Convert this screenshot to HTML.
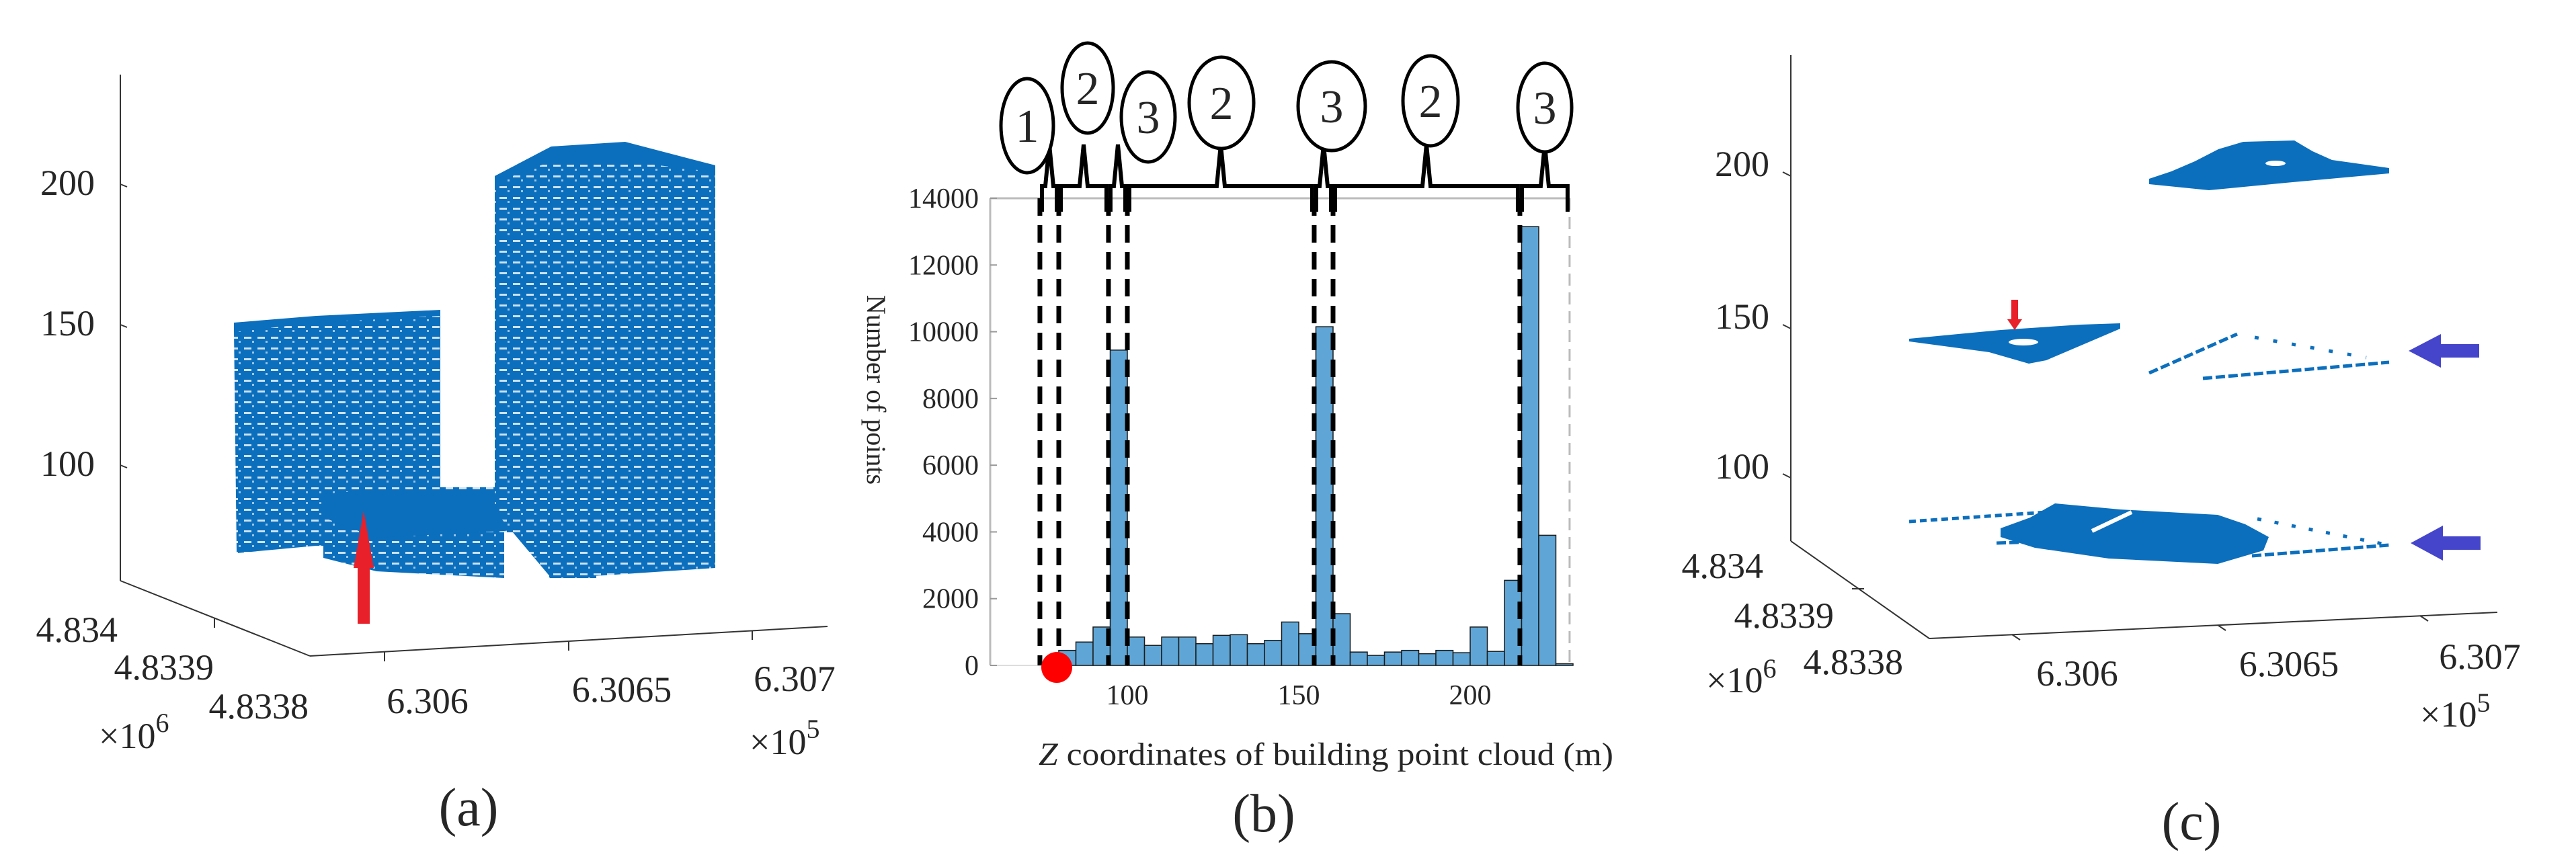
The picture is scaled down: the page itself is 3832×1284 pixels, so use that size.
<!DOCTYPE html>
<html><head><meta charset="utf-8"><style>
html,body{margin:0;padding:0;background:#fff;}
svg{display:block;}
svg text{font-family:"Liberation Serif","Times New Roman",serif !important;fill:#262626;}
</style></head><body>
<svg id="fig" width="3832" height="1284" viewBox="0 0 3832 1284" xmlns="http://www.w3.org/2000/svg" font-family="Liberation Serif, serif">
<defs>
<pattern id="win" width="20" height="16" patternUnits="userSpaceOnUse">
<rect width="20" height="16" fill="#0b6fbd"/>
<rect x="3" y="5" width="11" height="3" fill="#ffffff" opacity="0.8"/>
<rect x="15" y="11" width="3" height="3" fill="#ffffff" opacity="0.6"/>
</pattern>
</defs>

<!-- Panel A -->
<g>
<line x1="179" y1="111" x2="179" y2="864" stroke="#333" stroke-width="2"/>
<line x1="179" y1="864" x2="461" y2="976" stroke="#333" stroke-width="2"/>
<line x1="461" y1="976" x2="1231" y2="932" stroke="#333" stroke-width="2"/>
<g stroke="#333" stroke-width="2">
<line x1="179" y1="274" x2="189" y2="278"/><line x1="179" y1="483" x2="189" y2="487"/><line x1="179" y1="692" x2="189" y2="696"/>
<line x1="572" y1="970" x2="572" y2="984"/><line x1="846" y1="954" x2="846" y2="968"/><line x1="1119" y1="938" x2="1119" y2="952"/>
<line x1="319" y1="920" x2="319" y2="934"/>
</g>
<g font-size="54" text-anchor="end">
<text x="141" y="290">200</text>
<text x="141" y="499">150</text>
<text x="141" y="708">100</text>
<text x="175" y="955">4.834</text>
<text x="318" y="1011">4.8339</text>
<text x="459" y="1069">4.8338</text>
</g>
<text x="147" y="1113" font-size="54">×10<tspan dy="-24" font-size="40">6</tspan></text>
<g font-size="54" text-anchor="middle">
<text x="636" y="1061">6.306</text>
<text x="925" y="1044">6.3065</text>
<text x="1182" y="1028">6.307</text>
</g>
<text x="1115" y="1122" font-size="54">×10<tspan dy="-24" font-size="40">5</tspan></text>
<text x="697" y="1228" font-size="80" text-anchor="middle">(a)</text>
<polygon points="348,491 470,472 655,463 655,800 560,812 470,812 352,823" fill="url(#win)"/>
<polygon points="348,480 470,470 655,461 655,470 470,480 348,494" fill="#0b6fbd"/>
<polygon points="481,735 560,725 887,725 887,860 817,860 817,792 750,792 750,860 560,850 481,830" fill="url(#win)"/>
<polygon points="481,735 560,728 887,728 887,775 750,790 560,800 481,770" fill="#0b6fbd"/>
<polygon points="736,262 820,218 930,213 1064,246 1064,845 900,856 820,860 736,760" fill="url(#win)"/>
<polygon points="736,262 820,218 930,211 1064,246 1064,256 930,240 820,240 736,272" fill="#0b6fbd"/>
<polygon points="532,928 550,928 550,845 556,845 541,760 526,845 532,845" fill="#e8202a"/>
</g>

<!-- Panel B histogram -->
<g id="hist">
<text transform="translate(1290,580) rotate(90)" font-size="40" text-anchor="middle" fill="#000">Number of points</text>
<text x="1545" y="1138" font-size="48" textLength="855" lengthAdjust="spacingAndGlyphs" fill="#000"><tspan font-style="italic">Z</tspan> coordinates of building point cloud (m)</text>
<text x="1880" y="1237" font-size="80" text-anchor="middle">(b)</text>
</g>

<!-- Panel C -->
<g>
<line x1="2664" y1="82" x2="2664" y2="805" stroke="#333" stroke-width="2"/>
<line x1="2664" y1="805" x2="2870" y2="950" stroke="#333" stroke-width="2"/>
<line x1="2870" y1="950" x2="3715" y2="911" stroke="#333" stroke-width="2"/>
<g stroke="#333" stroke-width="2">
<line x1="2664" y1="262" x2="2652" y2="256"/><line x1="2664" y1="489" x2="2652" y2="483"/><line x1="2664" y1="711" x2="2652" y2="705"/>
<line x1="2755" y1="876" x2="2773" y2="876"/>
<line x1="2993" y1="944" x2="3005" y2="952"/><line x1="3299" y1="930" x2="3311" y2="938"/><line x1="3600" y1="916" x2="3612" y2="924"/>
</g>
<g font-size="54" text-anchor="end">
<text x="2632" y="262">200</text>
<text x="2632" y="489">150</text>
<text x="2632" y="712">100</text>
<text x="2623" y="860">4.834</text>
<text x="2728" y="934">4.8339</text>
<text x="2831" y="1003">4.8338</text>
</g>
<text x="2538" y="1030" font-size="54">×10<tspan dy="-22" font-size="40">6</tspan></text>
<g font-size="54" text-anchor="middle">
<text x="3090" y="1020">6.306</text>
<text x="3405" y="1006">6.3065</text>
<text x="3689" y="995">6.307</text>
</g>
<text x="3600" y="1081" font-size="54">×10<tspan dy="-22" font-size="40">5</tspan></text>
<text x="3260" y="1249" font-size="80" text-anchor="middle">(c)</text>
<polygon points="3197,266 3230,255 3265,240 3300,222 3337,211 3413,209 3440,225 3469,238 3554,250 3554,258 3400,272 3286,283 3197,274" fill="#0b6fbd"/>
<ellipse cx="3385" cy="243" rx="15" ry="4" fill="#fff"/>
<polygon points="2840,504 2976,491 3095,483 3154,481 3154,489 3044,536 3018,541 2959,524 2840,508" fill="#0b6fbd"/>
<ellipse cx="3010" cy="509" rx="22" ry="5" fill="#fff"/>
<polygon points="2992,446 3002,446 3002,475 3008,475 2997,491 2986,475 2992,475" fill="#e8202a"/>
<g stroke="#0b6fbd" stroke-width="5" stroke-dasharray="14 5" fill="none">
<line x1="3197" y1="555" x2="3328" y2="497"/>
<line x1="3277" y1="563" x2="3554" y2="539"/>
<line x1="3354" y1="502" x2="3520" y2="532" stroke-dasharray="6 22"/>
<line x1="2840" y1="776" x2="3044" y2="762" stroke-dasharray="10 6"/>
<line x1="3350" y1="827" x2="3554" y2="811"/>
<line x1="3358" y1="772" x2="3554" y2="811" stroke-dasharray="6 20"/>
<line x1="2970" y1="808" x2="3030" y2="806"/>
</g>
<polygon points="2976,786 3020,770 3057,749 3154,758 3299,766 3340,780 3375,799 3367,819 3299,839 3137,831 3027,815 2976,799" fill="#0b6fbd"/>
<line x1="3112" y1="790" x2="3171" y2="762" stroke="#fff" stroke-width="6"/>
<polygon points="3688,512 3631,512 3631,497 3583,522 3631,547 3631,532 3688,532" fill="#4545cc"/>
<polygon points="3690,798 3634,798 3634,782 3586,808 3634,834 3634,818 3690,818" fill="#4545cc"/>
</g>
</svg>
<script>
const binStarts = [80,85,90,95,100,105,110,115,120,125,130,135,140,145,150,155,160,165,170,175,180,185,190,195,200,205,210,215,220,225];
const counts = [450,700,1150,9450,850,600,850,850,650,900,920,650,750,1300,950,10150,1550,400,300,400,450,350,450,380,1150,420,2550,13150,3900,50];
const binWidth = 5;
const yTicks = [0,2000,4000,6000,8000,10000,12000,14000];
const xTicks = [100,150,200];
const boundaries = [74.5,80,94.5,100,154.5,160,214.5,229];
const segmentLabels = ["1","2","3","2","3","2","3"];
const xMin = 60, xMax = 229, yMax = 14000;
const L = 1473, R = 1473 + (xMax - xMin) * 5.1, T = 295, B = 990;
const sx = v => L + (v - xMin) / (xMax - xMin) * (R - L);
const sy = c => B - c / yMax * (B - T);
const NS = "http://www.w3.org/2000/svg";
const g = document.getElementById('hist');
function mk(tag, attrs, parent) {
  const e = document.createElementNS(NS, tag);
  for (const k in attrs) e.setAttribute(k, attrs[k]);
  (parent || g).appendChild(e);
  return e;
}
let e = mk('line', {x1:L, y1:T, x2:L, y2:B, stroke:'#bbb', 'stroke-width':3});


e = mk('line', {x1:L, y1:T, x2:R, y2:T, stroke:'#bbb', 'stroke-width':3});


e = mk('line', {x1:R, y1:T, x2:R, y2:B, stroke:'#bbb', 'stroke-width':3, 'stroke-dasharray':'18 10'});


e = mk('line', {x1:L, y1:B, x2:R, y2:B, stroke:'#ddd', 'stroke-width':2});


yTicks.forEach(t => {
  const y = sy(t);
  const tk = mk('line', {x1:L, y1:y, x2:L+10, y2:y, stroke:'#999', 'stroke-width':2});
  
  
  const tx = mk('text', {x:1456, y:y+14, 'font-size':42, 'text-anchor':'end'});
  tx.textContent = t;
  
  
});
xTicks.forEach(t => {
  const x = sx(t);
  const tk = mk('line', {x1:x, y1:B, x2:x, y2:B-10, stroke:'#999', 'stroke-width':2});
  
  
  const tx = mk('text', {x:x, y:1048, 'font-size':42, 'text-anchor':'middle'});
  tx.textContent = t;
  
  
});
binStarts.forEach((s, i) => {
  const x0 = sx(s), x1 = sx(s + binWidth), y = sy(counts[i]);
  const r = mk('rect', {x:x0, y:y, width:x1-x0, height:B-y, fill:'#5fa6d6', stroke:'#1a1a1a', 'stroke-width':1.5});
  
  
});
boundaries.slice(0, -1).forEach(b => {
  const l = mk('line', {x1:sx(b), y1:295, x2:sx(b), y2:B, stroke:'#000', 'stroke-width':7, 'stroke-dasharray':'26 14'});
  
  
});
const ell = [[1528,187,39,70],[1618,131,38,67],[1708,174,40,67],[1817,153,48,68],[1981,158,50,66],[2128,150,41,67],[2298,160,40,66]];
for (let i = 0; i < segmentLabels.length; i++) {
  const a = sx(boundaries[i]) + 3, b = sx(boundaries[i+1]) - 3, m = (a + b) / 2;
  const p = mk('path', {d:`M${a},315 L${a},277 L${m-6},277 L${m},215 L${m+6},277 L${b},277 L${b},315`, fill:'none', stroke:'#000', 'stroke-width':6});
  
  
  const c = ell[i];
  const el = mk('ellipse', {cx:c[0], cy:c[1], rx:c[2], ry:c[3], fill:'#fff', stroke:'#000', 'stroke-width':5});
  
  
  const t = mk('text', {x:c[0], y:c[1]+24, 'font-size':70, 'text-anchor':'middle', fill:'#000'});
  t.textContent = segmentLabels[i];
  
  
}
const dot = mk('circle', {cx:1572, cy:993, r:23, fill:'#ff0000'});


</script>
</body></html>
